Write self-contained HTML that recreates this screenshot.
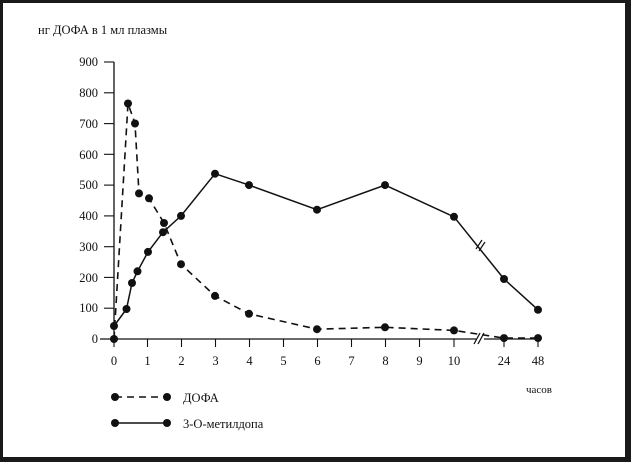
<!DOCTYPE html>
<html><head><meta charset="utf-8"><style>
html,body{margin:0;padding:0;background:#1a1a1a;}
svg{display:block;}
text{font-family:"Liberation Serif",serif;fill:#111;}
</style></head><body>
<svg width="631" height="462" viewBox="0 0 631 462">
<rect x="0" y="0" width="631" height="462" fill="#1a1a1a"/>
<rect x="3" y="3" width="622" height="454" fill="#fff"/>
<text x="38" y="34" font-size="12.5">нг ДОФА в 1 мл плазмы</text>
<g stroke="#111" stroke-width="1.3" fill="none">
<line x1="114" y1="62" x2="114" y2="339"/>
<line x1="100" y1="339" x2="476" y2="339"/>
<line x1="484" y1="339" x2="539" y2="339"/>
<line x1="474" y1="344" x2="480" y2="333"/>
<line x1="478" y1="344" x2="484" y2="333"/>
</g>
<g stroke="#111" stroke-width="1.1">
<line x1="104" y1="62" x2="114" y2="62"/>
<line x1="104" y1="92.8" x2="114" y2="92.8"/>
<line x1="104" y1="123.6" x2="114" y2="123.6"/>
<line x1="104" y1="154.3" x2="114" y2="154.3"/>
<line x1="104" y1="185.1" x2="114" y2="185.1"/>
<line x1="104" y1="215.9" x2="114" y2="215.9"/>
<line x1="104" y1="246.7" x2="114" y2="246.7"/>
<line x1="104" y1="277.4" x2="114" y2="277.4"/>
<line x1="104" y1="308.2" x2="114" y2="308.2"/>
<line x1="114" y1="339" x2="114" y2="347"/>
<line x1="147.5" y1="339" x2="147.5" y2="347"/>
<line x1="181.5" y1="339" x2="181.5" y2="347"/>
<line x1="215.5" y1="339" x2="215.5" y2="347"/>
<line x1="249.5" y1="339" x2="249.5" y2="347"/>
<line x1="283.5" y1="339" x2="283.5" y2="347"/>
<line x1="317.5" y1="339" x2="317.5" y2="347"/>
<line x1="351.5" y1="339" x2="351.5" y2="347"/>
<line x1="385.5" y1="339" x2="385.5" y2="347"/>
<line x1="419.5" y1="339" x2="419.5" y2="347"/>
<line x1="454" y1="339" x2="454" y2="347"/>
<line x1="504" y1="339" x2="504" y2="347"/>
<line x1="538" y1="339" x2="538" y2="347"/>
</g>
<g font-size="12.5" text-anchor="end">
<text x="98" y="66">900</text><text x="98" y="97">800</text><text x="98" y="128">700</text>
<text x="98" y="159">600</text><text x="98" y="189">500</text><text x="98" y="220">400</text>
<text x="98" y="251">300</text><text x="98" y="282">200</text><text x="98" y="312">100</text>
<text x="98" y="343">0</text>
</g>
<g font-size="12.5" text-anchor="middle">
<text x="114" y="365">0</text><text x="147.5" y="365">1</text><text x="181.5" y="365">2</text>
<text x="215.5" y="365">3</text><text x="249.5" y="365">4</text><text x="283.5" y="365">5</text>
<text x="317.5" y="365">6</text><text x="351.5" y="365">7</text><text x="385.5" y="365">8</text>
<text x="419.5" y="365">9</text><text x="454" y="365">10</text><text x="504" y="365">24</text>
<text x="538" y="365">48</text>
</g>
<text x="526" y="393" font-size="11">часов</text>
<!-- DOFA dashed -->
<polyline fill="none" stroke="#111" stroke-width="1.6" stroke-dasharray="7,5"
points="114,339 128,103.5 135,123.5 139,193.4 149,198.3 164,223 181,264.2 215,295.9 249,313.8 317,329.2 385,327.3 454,330.4 504,338.1 538,338.1"/>
<polyline fill="none" stroke="#111" stroke-width="1.5"
points="114,326 126.5,309 132,283 137.5,271.3 148,251.9 163,232.2 181,215.9 215,173.7 249,185.1 317,209.7 385,185.1 454,216.8 504,279 538,309.8"/>
<line x1="476" y1="249" x2="482" y2="240" stroke="#111" stroke-width="1.2"/>
<line x1="479" y1="251" x2="485" y2="242" stroke="#111" stroke-width="1.2"/>
<g fill="#111">
<circle cx="114" cy="339" r="4"/><circle cx="128" cy="103.5" r="4"/><circle cx="135" cy="123.5" r="4"/>
<circle cx="139" cy="193.4" r="4"/><circle cx="149" cy="198.3" r="4"/><circle cx="164" cy="223" r="4"/>
<circle cx="181" cy="264.2" r="4"/><circle cx="215" cy="295.9" r="4"/><circle cx="249" cy="313.8" r="4"/>
<circle cx="317" cy="329.2" r="4"/><circle cx="385" cy="327.3" r="4"/><circle cx="454" cy="330.4" r="4"/>
<circle cx="504" cy="338.1" r="4"/><circle cx="538" cy="338.1" r="4"/>
<circle cx="114" cy="326" r="4"/><circle cx="126.5" cy="309" r="4"/><circle cx="132" cy="283" r="4"/>
<circle cx="137.5" cy="271.3" r="4"/><circle cx="148" cy="251.9" r="4"/><circle cx="163" cy="232.2" r="4"/>
<circle cx="181" cy="215.9" r="4"/><circle cx="215" cy="173.7" r="4"/><circle cx="249" cy="185.1" r="4"/>
<circle cx="317" cy="209.7" r="4"/><circle cx="385" cy="185.1" r="4"/><circle cx="454" cy="216.8" r="4"/>
<circle cx="504" cy="279" r="4"/><circle cx="538" cy="309.8" r="4"/>
</g>
<line x1="115" y1="397" x2="167" y2="397" stroke="#111" stroke-width="1.6" stroke-dasharray="7,5"/>
<circle cx="115" cy="397" r="4" fill="#111"/><circle cx="167" cy="397" r="4" fill="#111"/>
<text x="183" y="402" font-size="12.5">ДОФА</text>
<line x1="115" y1="423" x2="167" y2="423" stroke="#111" stroke-width="1.6"/>
<circle cx="115" cy="423" r="4" fill="#111"/><circle cx="167" cy="423" r="4" fill="#111"/>
<text x="183" y="428" font-size="12.5">3-О-метилдопа</text>
</svg>
</body></html>
